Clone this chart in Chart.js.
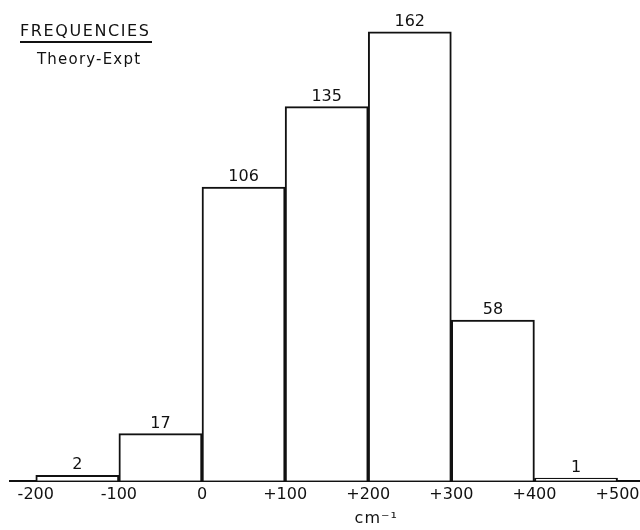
<!DOCTYPE html>
<html>
<head>
<meta charset="utf-8">
<script src="https://cdn.jsdelivr.net/npm/chart.js@4"></script>
<style>
  html, body { margin: 0; padding: 0; background: #fff; }
  #wrap { width: 640px; height: 530px; }
</style>
</head>
<body>
<div id="wrap"><canvas id="hist" width="640" height="530"></canvas></div>
<script>
// Histograma: Theory - Expt (cm-1)
const binCenters = [-150, -50, 50, 150, 250, 350, 450];
const counts = [2, 17, 106, 135, 162, 58, 1];
const xTicks = [-200, -100, 0, 100, 200, 300, 400, 500];
const titulo = 'FREQUENCIES';
const subtitulo = 'Theory-Expt';
const eixoX = 'cm⁻¹';

const fonte = '"DejaVu Sans", sans-serif';

// rotulos das barras + titulo
const rotulos = {
  id: 'rotulos',
  afterDatasetsDraw(chart) {
    const ctx = chart.ctx;
    const meta = chart.getDatasetMeta(0);
    ctx.save();
    ctx.fillStyle = '#111';
    ctx.font = '16px ' + fonte;
    ctx.textAlign = 'center';
    ctx.textBaseline = 'bottom';
    meta.data.forEach((bar, i) => {
      ctx.fillText(String(counts[i]), bar.x, bar.y - 2);
    });

    ctx.textAlign = 'left';
    ctx.textBaseline = 'middle';
    ctx.font = '16px ' + fonte;
    ctx.letterSpacing = '1.6px';
    ctx.fillText(titulo, 20, 32);
    ctx.lineWidth = 2;
    ctx.strokeStyle = '#111';
    ctx.beginPath();
    ctx.moveTo(20, 42);
    ctx.lineTo(152, 42);
    ctx.stroke();
    ctx.font = '15px ' + fonte;
    ctx.letterSpacing = '1.2px';
    ctx.fillText(subtitulo, 37, 60);

    const sx = chart.scales.x;
    ctx.letterSpacing = '1px';
    ctx.textAlign = 'center';
    ctx.font = '16px ' + fonte;
    ctx.fillText(eixoX, sx.getPixelForValue(200) + 8, 519);
    ctx.restore();
  }
};

new Chart(document.getElementById('hist').getContext('2d'), {
  type: 'bar',
  data: {
    datasets: [{
      data: binCenters.map((x, i) => ({ x: x, y: counts[i] })),
      backgroundColor: '#fff',
      borderColor: '#111',
      borderWidth: 2,
      barPercentage: 1,
      categoryPercentage: 1
    }]
  },
  options: {
    responsive: false,
    animation: false,
    layout: { padding: { left: 10, right: 0, top: 0, bottom: 22 } },
    plugins: {
      legend: { display: false },
      tooltip: { enabled: false }
    },
    scales: {
      x: {
        type: 'linear',
        offset: false,
        min: -231,
        max: 527,
        afterBuildTicks: axis => { axis.ticks = xTicks.map(v => ({ value: v })); },
        afterFit: axis => { axis.paddingLeft = 0; axis.paddingRight = 0; },
        grid: { display: false, drawTicks: false, offset: false },
        border: { display: true, color: '#111', width: 2 },
        ticks: {
          padding: 4,
          color: '#111',
          font: { family: fonte, size: 16 },
          maxRotation: 0,
          autoSkip: false,
          callback: v => v > 0 ? '+' + v : String(v)
        }
      },
      y: {
        display: false,
        min: 0,
        max: 173.5
      }
    }
  },
  plugins: [rotulos]
});
</script>
</body>
</html>
